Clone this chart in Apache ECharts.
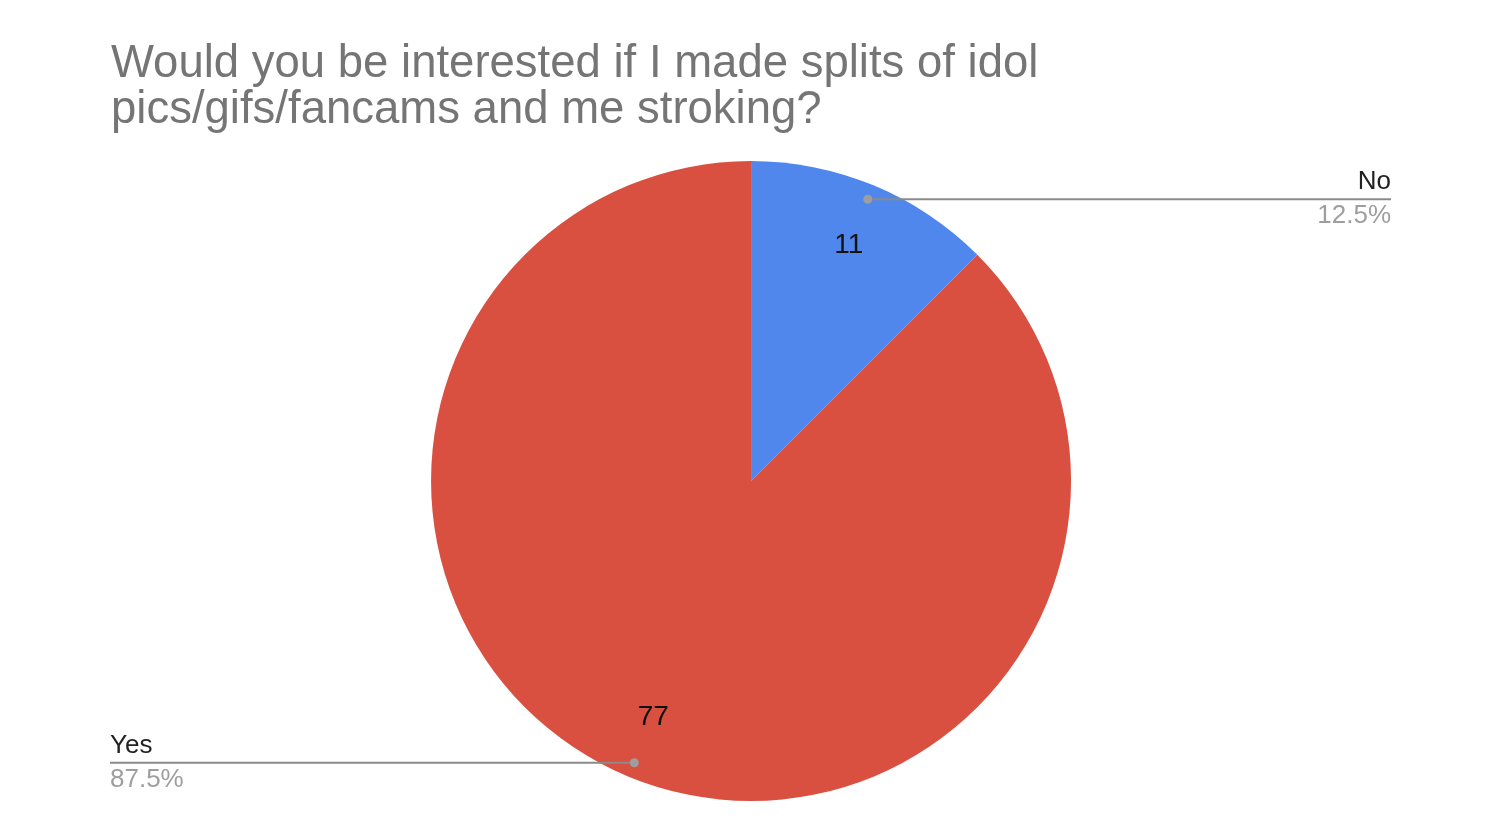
<!DOCTYPE html>
<html>
<head>
<meta charset="utf-8">
<script src="https://cdn.jsdelivr.net/npm/echarts@6/dist/echarts.min.js"></script>
<style>html,body{margin:0;padding:0;background:#fff}#c{width:1500px;height:840px}</style>
</head>
<body>
<div id="c"></div>
<script>
var titleText = 'Would you be interested if I made splits of idol\npics/gifs/fancams and me stroking?';
var categories = ['No', 'Yes'];
var values = [11, 77];
var colors = ['#4f87ec', '#d95040'];

var chart = echarts.init(document.getElementById('c'));
var FONT = '"Liberation Sans", Arial, sans-serif';
var R = 320, CX_P = 0.5007, CY_P = 0.5726, DOT_R = 305;
var total = values.reduce(function (a, b) { return a + b; }, 0);

function midAngle(i) {
  var cum = 0;
  for (var k = 0; k < i; k++) cum += values[k];
  return (cum + values[i] / 2) / total * Math.PI * 2;
}

var pieData = categories.map(function (c, i) {
  return { name: c, value: values[i], itemStyle: { color: colors[i] } };
});
var ghostData = categories.map(function (c, i) {
  return { name: c, value: values[i], itemStyle: { color: 'rgba(0,0,0,0)' } };
});

var option = {
  backgroundColor: '#ffffff',
  animation: false,
  title: {
    text: titleText,
    left: 106, top: 36,
    textStyle: { fontFamily: FONT, fontSize: 45.5, fontWeight: 'normal', color: '#757575', lineHeight: 46 }
  },
  series: [
    {
      type: 'pie',
      radius: R,
      center: ['50.07%', '57.26%'],
      startAngle: 90,
      clockwise: true,
      silent: true,
      z: 1,
      data: pieData,
      itemStyle: { borderWidth: 0 },
      label: { show: false },
      labelLine: { show: false }
    },
    {
      type: 'pie',
      radius: R,
      center: ['50.07%', '57.26%'],
      startAngle: 90,
      clockwise: true,
      silent: true,
      z: 3,
      data: ghostData,
      label: {
        show: true,
        position: 'outside',
        formatter: function (p) {
          return '{n|' + p.name + '}\n{p|' + (p.value / total * 100).toFixed(1) + '%}';
        },
        rich: {
          n: { fontFamily: FONT, fontSize: 26, color: '#222222', lineHeight: 34 },
          p: { fontFamily: FONT, fontSize: 26, color: '#9e9e9e', lineHeight: 34 }
        }
      },
      labelLine: { show: true, lineStyle: { color: '#8a8a8a', width: 2 } },
      labelLayout: function (params) {
        var W = chart.getWidth(), H = chart.getHeight();
        var cx = W * CX_P, cy = H * CY_P;
        var a = midAngle(params.dataIndex);
        var dx = cx + DOT_R * Math.sin(a), dy = cy - DOT_R * Math.cos(a);
        var right = Math.sin(a) > 0;
        var ex = right ? W - 109 : 110;
        return {
          x: ex, y: dy,
          align: right ? 'right' : 'left',
          verticalAlign: 'middle',
          labelLinePoints: [[dx, dy], [dx, dy], [ex, dy]]
        };
      }
    },
    {
      type: 'pie',
      radius: [185, R],
      center: ['50.07%', '57.26%'],
      startAngle: 90,
      silent: true,
      z: 4,
      data: ghostData,
      label: {
        show: true, position: 'inside',
        formatter: '{c}',
        fontFamily: FONT, fontSize: 28, color: '#111111'
      },
      labelLine: { show: false }
    },
    {
      type: 'pie',
      radius: [284, R],
      center: ['50.07%', '57.26%'],
      startAngle: 90,
      silent: true,
      z: 5,
      data: ghostData,
      label: {
        show: true, position: 'inside',
        formatter: '{d|}',
        rich: { d: { width: 9, height: 9, lineHeight: 9, borderRadius: 5, backgroundColor: '#9e9e9e' } }
      },
      labelLine: { show: false }
    }
  ]
};
chart.setOption(option);
</script>
</body>
</html>
